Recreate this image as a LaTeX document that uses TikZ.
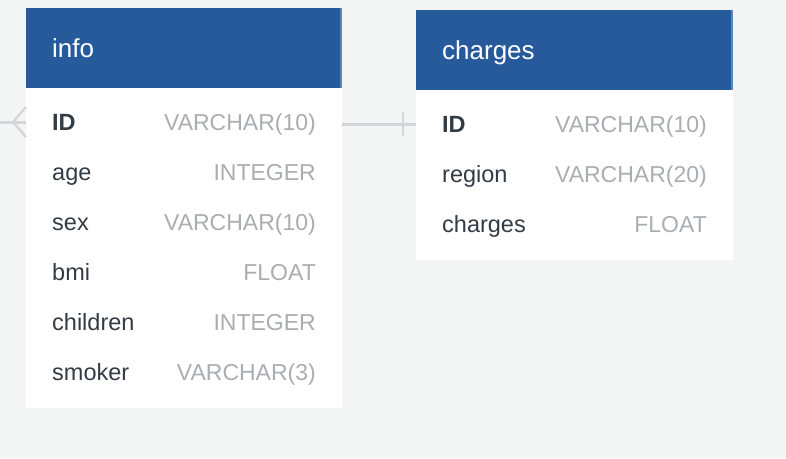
\documentclass[tikz,border=0pt]{standalone}
\usepackage{fontspec}
\setmainfont{Liberation Sans}
\definecolor{bg}{HTML}{F3F5F4}
\definecolor{head}{HTML}{265A9A}
\definecolor{headedge}{HTML}{5F86B8}
\definecolor{namecol}{HTML}{333B44}
\definecolor{typecol}{HTML}{A9AEB3}
\definecolor{linecol}{HTML}{D3D6D6}
\begin{document}
\begin{tikzpicture}[x=1pt,y=-1pt,
  headbox/.style={fill=head,draw=none,inner sep=0pt,anchor=north west},
  bodybox/.style={fill=white,draw=none,inner sep=0pt,anchor=north west},
  title/.style={anchor=base west,inner sep=0pt,text=white,font=\fontsize{26}{30}\selectfont},
  fname/.style={anchor=base west,inner sep=0pt,text=namecol,font=\fontsize{23.5}{27}\selectfont},
  fkey/.style={fname,font=\fontsize{23.5}{27}\selectfont\bfseries},
  ftype/.style={anchor=base east,inner sep=0pt,text=typecol,font=\fontsize{23}{27}\selectfont},
  conn/.style={draw=linecol,line width=3pt},
  thinconn/.style={draw=linecol,line width=2.2pt}]
\fill[bg] (0,0) rectangle (786,458);
\useasboundingbox (0,0) rectangle (786,458);

% info table
\node[bodybox,minimum width=316pt,minimum height=320pt] (infobody) at (26,88) {};
\node[headbox,minimum width=316pt,minimum height=80pt] (infohead) at (26,8) {};
\fill[headedge] (340,8) rectangle (342,88);
\node[title] (infotitle) at (52,57) {info};
\node[fkey]  (iIDn) at (52,130) {ID};
\node[ftype] (iIDt) at (316,130) {VARCHAR(10)};
\node[fname] (iagen) at (52,180) {age};
\node[ftype] (iaget) at (316,180) {INTEGER};
\node[fname] (isexn) at (52,230) {sex};
\node[ftype] (isext) at (316,230) {VARCHAR(10)};
\node[fname] (ibmin) at (52,280) {bmi};
\node[ftype] (ibmit) at (316,280) {FLOAT};
\node[fname] (ichn) at (52,330) {children};
\node[ftype] (icht) at (316,330) {INTEGER};
\node[fname] (ismn) at (52,380) {smoker};
\node[ftype] (ismt) at (316,380) {VARCHAR(3)};

% charges table
\node[bodybox,minimum width=317pt,minimum height=170pt] (chbody) at (416,90) {};
\node[headbox,minimum width=317pt,minimum height=80pt] (chhead) at (416,10) {};
\fill[headedge] (731,10) rectangle (733,90);
\node[title] (chtitle) at (442,59) {charges};
\node[fkey]  (cIDn) at (442,132) {ID};
\node[ftype] (cIDt) at (707,132) {VARCHAR(10)};
\node[fname] (cregn) at (442,182) {region};
\node[ftype] (cregt) at (707,182) {VARCHAR(20)};
\node[fname] (cchn) at (442,232) {charges};
\node[ftype] (ccht) at (707,232) {FLOAT};

% connector info.ID -- charges.ID
\coordinate (infoR) at (infobody.east |- 0,124);
\coordinate (chL) at (chbody.west |- 0,124);
\coordinate (tick) at (403,124);
\draw[conn] (infoR) -- (chL);
\draw[thinconn] ([yshift=-12pt]tick) -- ([yshift=12pt]tick);

% crow's foot on the left of info
\coordinate (infoL) at (infobody.west |- 0,122);
\coordinate (far) at (0,122);
\coordinate (fork) at (13,122);
\draw[conn] (far) -- (infoL);
\draw[thinconn] ([yshift=-15pt]infoL) -- (fork) -- ([yshift=15pt]infoL);
\end{tikzpicture}
\end{document}
